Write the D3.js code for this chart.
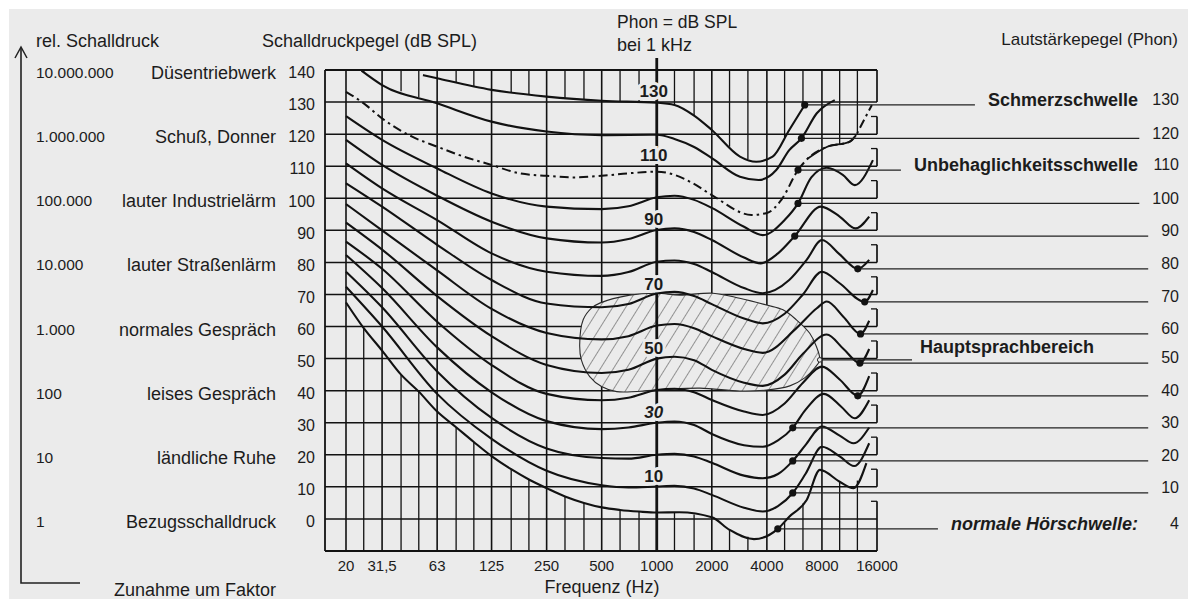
<!DOCTYPE html>
<html><head><meta charset="utf-8">
<script src="https://cdn.jsdelivr.net/npm/d3@7"></script>
<style>
html,body{margin:0;padding:0;background:#fff;}
svg{display:block;font-family:"Liberation Sans",Arial,Helvetica,sans-serif;}
</style></head><body>
<svg id="chart" width="1191" height="599"></svg>
<script>
// ---------------- DATA ----------------
const dbTicks = [0,10,20,30,40,50,60,70,80,90,100,110,120,130,140];
const dbGrid = [0,10,20,30,40,50,60,70,80,90,100,110,120,130];
const freqTicks = [20,31.5,63,125,250,500,1000,2000,4000,8000,16000];
const freqTickLabels = ["20","31,5","63","125","250","500","1000","2000","4000","8000","16000"];
const octaveLines = [20,31.5,63,125,250,500,2000,4000,8000];
const thirdLines = [25,40,50,80,100,160,200,315,400,630,800,1250,1600,2500,3150,5000,6300,10000,12500];
const borderTickLevels = [0,10,20,30,40,50,60,70,80,90,100,110,120];

const relPressure = ["10.000.000","1.000.000","100.000","10.000","1.000","100","10","1"];
const relLevels = [140,120,100,80,60,40,20,0];
const examples = ["Düsentriebwerk","Schuß, Donner","lauter Industrielärm","lauter Straßenlärm","normales Gespräch","leises Gespräch","ländliche Ruhe","Bezugsschalldruck"];

const phonAt1k = [130,110,90,70,50,30,10];

// equal-loudness contours: [frequency Hz, dB SPL]
const curve130 = [[52.7,138.4],[63,137.4],[125,133.8],[250,131.7],[500,130.4],[1000,129.8],[1250,129.1],[1600,125.8],[2000,121.3],[2850,113],[3500,111.4],[4300,113],[5300,121.3]];
const curve120 = [[24.3,139.8],[31.5,135.3],[63,129.6],[125,123.9],[250,120.8],[500,119.7],[1000,119.8],[1250,118.5],[1600,116],[2000,112.5],[2850,106.7],[3600,105.7],[4500,108.8],[5300,115],[7500,126.5],[9400,130.6]];
const curve110 = [[20,133.2],[25,129.6],[31.5,124.9],[46,119.2],[63,116.1],[88,113],[125,110.4],[177,107.8],[250,107],[350,106.5],[500,107],[710,107.8],[1000,108.3],[1250,107.3],[1570,104.7],[2000,101],[3300,94.8],[4000,95.4],[4800,99.5],[6700,112.4],[8500,116],[11300,117.6],[12300,119.7],[13000,122.3],[15000,129.1]];
const curve100 = [[20,125.6],[31.5,118.2],[63,109.3],[125,101.5],[250,97.4],[500,96.6],[700,97.5],[1000,100.3],[1250,100.8],[1600,99.5],[2000,97],[3000,91.1],[3800,88.5],[5000,93.2],[7000,106.5],[8500,109.5],[10400,107.3],[12100,104.1],[15200,111.9]];
const curve90 = [[20,118.2],[31.5,110.4],[63,100.8],[125,92.7],[250,87.5],[500,86.2],[700,87.3],[1000,90.1],[1250,90.6],[1600,89.5],[2000,87],[3000,81.5],[3700,79.7],[4600,82.8],[7900,97.4],[10000,94.3],[12200,90.6],[14500,94.3]];
const curve80 = [[20,110.9],[31.5,103.1],[63,93.2],[125,82.8],[250,77.1],[500,75.8],[700,77],[1000,80.2],[1250,80.6],[1600,79.5],[2000,77],[3000,72],[3800,70.4],[5300,74.5],[6600,80.8],[8000,87],[10000,82.5],[14500,80.8]];
const curve70 = [[20,104.7],[31.5,97.4],[63,85.5],[125,74.5],[250,67.2],[500,66],[700,67],[1000,70.3],[1250,70.8],[1600,69.5],[2000,67],[3000,62.5],[3800,61],[5000,64],[6300,70],[8000,77.1],[10000,73.5],[15200,71.4]];
const curve60 = [[20,98.2],[31.5,90],[63,77.5],[125,65.5],[250,58],[500,56],[700,57],[1000,60.3],[1250,60.8],[1600,59.5],[2000,57],[3000,53],[3800,51.8],[5800,59.5],[7500,65.7],[8500,67.8],[10500,63],[14500,61.8]];
const curve50 = [[20,92.4],[31.5,84],[63,69.5],[125,57],[250,48],[500,45.5],[700,46.5],[1000,50],[1250,50.6],[1600,49.5],[2000,46.5],[3000,42.5],[3800,41.5],[5000,45],[6300,51.5],[8500,57.5],[10500,53],[14500,53]];
const curve40 = [[20,86.5],[31.5,78],[63,61.5],[125,48],[250,39],[500,37],[700,37.8],[1000,40.2],[1250,40.6],[1600,39.5],[2000,37.1],[3000,33.5],[3800,32.4],[5000,36],[6300,42.5],[8000,47.5],[10000,43.5],[14500,44.5]];
const curve30 = [[20,82.3],[31.5,72],[63,53.5],[125,39.5],[250,30.5],[500,28],[700,28.5],[1000,30],[1250,30.4],[1600,29.3],[2000,26.5],[3000,23],[3800,22.5],[4600,24.5],[6500,34],[8200,39],[10200,35],[12100,31.4],[14500,37]];
const curve20 = [[20,77.1],[31.5,66],[63,46],[125,31.5],[250,22],[500,19],[700,18.8],[1000,20],[1250,20.3],[1600,19.5],[2000,17.5],[3000,13.5],[3800,12.7],[4600,14],[6500,23],[8000,28.8],[10000,26],[11900,23.6],[14500,28.5]];
const curve10 = [[20,72.4],[31.5,60],[63,39],[125,25],[250,15],[500,10.5],[700,9.8],[1000,10.1],[1250,10.3],[1600,9.5],[2000,7.5],[3000,3.5],[3800,2.3],[4600,4],[6500,14],[8000,22.5],[10000,19.5],[12000,16.5],[14500,23.6]];
const curve4 = [[20,67.5],[25,59.5],[31.5,52.5],[40,45],[50,39.7],[63,33.5],[80,28.6],[100,24],[125,19.6],[160,15.5],[200,12.3],[250,9.6],[315,7],[400,5],[500,3.6],[630,2.8],[800,2.3],[1000,2],[1330,2.1],[2000,0.5],[2500,-3.4],[3400,-6.3],[5300,0.7],[6600,5.9],[7800,15.3],[10000,11.6],[11900,9.6],[14000,17.4]];

const solidPhons = [130,120,100,90,80,70,60,50,40,30,20,10,4];
const solidCurves = [curve130,curve120,curve100,curve90,curve80,curve70,curve60,curve50,curve40,curve30,curve20,curve10,curve4];
const dashPhon = 110;
const dashSolidRange = [6700,12300];

// marked points where the right-hand leader lines start
const dotPhon = [130,120,110,100,90,80,70,60,50,40,30,20,10,4];
const dotFreq = [6440,6180,5920,5920,5680,12560,13700,13000,12900,12560,5540,5540,5540,4590];
const dotDb = [129.1,118.7,108.8,98.4,88.2,78,67.7,57.7,48.6,38.4,28.4,18.1,8.1,-3.1];

const namedPhon = [130,110,4];
const namedText = ["Schmerzschwelle","Unbehaglichkeitsschwelle","normale Hörschwelle:"];

// main speech region outline [Hz, dB]
const speechRegion = [[379,54.3],[396,62.1],[441,65.8],[488,67.3],[712,69.8],[1000,70.4],[1336,69.8],[2030,70.4],[2840,68.8],[3980,66.7],[4900,65.2],[5800,62.1],[6860,57.9],[7470,53.7],[7780,49.6],[7310,47.1],[6440,44],[5340,41.5],[3990,40.2],[2840,39.9],[1720,40.8],[1000,40.2],[604,39.7],[499,41.3],[430,44.4],[387,49.6]];
const speechLabel = "Hauptsprachbereich";

// ---------------- DRAW ----------------
const W = 1191, H = 599;
const BG = "#ebebeb", INK = "#121212", TXT = "#1c1c1c";
const svg = d3.select("#chart");
svg.append("rect").attr("x",9).attr("y",9).attr("width",W-12).attr("height",H-9).attr("fill",BG);

const x = d3.scaleLog().domain([20,16000]).range([346,877]);
const y = d3.scaleLinear().domain([-10,140]).range([551,70]);
const xL = 325, xR = x(16000), yT = y(140), yB = y(-10);

function withDot(pts, phon){
  const a = pts.slice();
  const i = dotPhon.indexOf(phon);
  if (i >= 0) a.push([dotFreq[i], dotDb[i]]);
  a.sort((p,q)=>p[0]-q[0]);
  return a;
}
function interp(pts, f){
  if (f < pts[0][0] || f > pts[pts.length-1][0]) return null;
  for (let k=0;k<pts.length-1;k++){
    const [f0,d0]=pts[k],[f1,d1]=pts[k+1];
    if (f>=f0 && f<=f1){
      const t=(Math.log(f)-Math.log(f0))/(Math.log(f1)-Math.log(f0));
      return d0+t*(d1-d0);
    }
  }
  return null;
}
const allSolid = solidCurves.map((c,i)=>withDot(c, solidPhons[i]));
const dashPts = withDot(curve110, dashPhon);
const thresholdPts = allSolid[solidPhons.indexOf(4)];

const grid = svg.append("g").attr("stroke",INK).attr("fill","none");
grid.selectAll(".h").data(dbGrid).join("line")
  .attr("x1",xL).attr("x2",xR).attr("y1",d=>y(d)).attr("y2",d=>y(d)).attr("stroke-width",1.5);
grid.selectAll(".o").data(octaveLines).join("line")
  .attr("x1",d=>x(d)).attr("x2",d=>x(d)).attr("y1",yT).attr("y2",yB).attr("stroke-width",1.6);
thirdLines.forEach(f=>{
  const thr = interp(thresholdPts,f);
  if (thr!==null) grid.append("line").attr("x1",x(f)).attr("x2",x(f)).attr("y1",yB).attr("y2",y(thr)).attr("stroke-width",1.3);
  let top = -Infinity;
  allSolid.concat([dashPts]).forEach(c=>{ const v=interp(c,f); if(v!==null && v>top) top=v; });
  if (top>-Infinity && top<140) grid.append("line").attr("x1",x(f)).attr("x2",x(f)).attr("y1",yT).attr("y2",y(top)).attr("stroke-width",1.3);
});
grid.append("line").attr("x1",xL).attr("x2",xL).attr("y1",yT).attr("y2",yB).attr("stroke-width",1.8);
grid.append("line").attr("x1",xL).attr("x2",xR).attr("y1",yT).attr("y2",yT).attr("stroke-width",1.8);
grid.append("line").attr("x1",xL).attr("x2",xR).attr("y1",yB).attr("y2",yB).attr("stroke-width",1.8);
grid.append("line").attr("x1",xR).attr("x2",xR).attr("y1",yT).attr("y2",y(130)).attr("stroke-width",1.7);
grid.append("line").attr("x1",xR).attr("x2",xR).attr("y1",yB).attr("y2",y(0)).attr("stroke-width",1.7);
borderTickLevels.forEach(L=>{
  grid.append("line").attr("x1",xR).attr("x2",xR).attr("y1",y(L)).attr("y2",y(L+5.5)).attr("stroke-width",1.7);
  grid.append("line").attr("x1",xR).attr("x2",xR-6).attr("y1",y(L+5.5)).attr("y2",y(L+5.5)).attr("stroke-width",1.3);
});

// speech region (covers grid)
const defs = svg.append("defs");
const pat = defs.append("pattern").attr("id","hatch").attr("patternUnits","userSpaceOnUse")
  .attr("width",11).attr("height",11).attr("patternTransform","rotate(32)");
pat.append("line").attr("x1",0).attr("y1",0).attr("x2",0).attr("y2",11).attr("stroke","#3a3a3a").attr("stroke-width",1);
const regionLine = d3.line().x(d=>x(d[0])).y(d=>y(d[1])).curve(d3.curveCatmullRomClosed.alpha(0.5));
svg.append("path").attr("d",regionLine(speechRegion)).attr("fill",BG);
svg.append("path").attr("d",regionLine(speechRegion)).attr("fill","url(#hatch)").attr("stroke","#2a2a2a").attr("stroke-width",1.1);

// 1 kHz reference line
svg.append("line").attr("x1",x(1000)).attr("x2",x(1000)).attr("y1",58).attr("y2",yB).attr("stroke",INK).attr("stroke-width",2.8);
svg.append("g").selectAll("text").data(phonAt1k).join("text")
  .attr("x",x(1000)-3).attr("y",d=>y(d)-11).attr("dy","0.36em").attr("text-anchor","middle")
  .attr("font-size",17).attr("font-weight","bold").attr("font-style",d=>d===30?"italic":null)
  .attr("fill",TXT).attr("stroke",BG).attr("stroke-width",6).attr("paint-order","stroke")
  .text(d=>d);

// contours
const line = d3.line().x(d=>x(d[0])).y(d=>y(d[1])).curve(d3.curveMonotoneX);
svg.append("g").selectAll("path").data(allSolid).join("path")
  .attr("d",d=>line(d)).attr("fill","none").attr("stroke",INK).attr("stroke-width",2.1);
svg.append("path").attr("d",line(dashPts)).attr("fill","none").attr("stroke",INK)
  .attr("stroke-width",2).attr("stroke-dasharray","9,4,2.5,4");
svg.append("path").attr("d",line.defined(d=>d[0]>=dashSolidRange[0]&&d[0]<=dashSolidRange[1])(dashPts))
  .attr("fill","none").attr("stroke",INK).attr("stroke-width",1.8);

// right-hand labels with leader lines
const rg = svg.append("g");
dotPhon.forEach((p,i)=>{
  const yy = y(dotDb[i]);
  const num = rg.append("text").attr("x",1179).attr("y",yy-5.5).attr("dy","0.36em").attr("text-anchor","end")
    .attr("font-size",16).attr("fill",TXT).text(p);
  let left = 1179 - num.node().getComputedTextLength();
  const ni = namedPhon.indexOf(p);
  if (ni>=0){
    const t = rg.append("text").attr("x",1138).attr("y",yy-5.5).attr("dy","0.36em").attr("text-anchor","end")
      .attr("font-size",18).attr("font-weight","bold").attr("font-style",p===4?"italic":null)
      .attr("fill",TXT).text(namedText[ni]);
    left = 1138 - t.node().getComputedTextLength();
  }
  rg.append("line").attr("x1",x(dotFreq[i])).attr("x2",left-13).attr("y1",yy).attr("y2",yy)
    .attr("stroke","#222").attr("stroke-width",1.3);
});
const tip = speechRegion.reduce((a,b)=>b[0]>a[0]?b:a);
rg.append("text").attr("x",920).attr("y",y(tip[1])-13).attr("dy","0.36em")
  .attr("font-size",18).attr("font-weight","bold").attr("fill",TXT).text(speechLabel);
rg.append("line").attr("x1",x(tip[0])).attr("x2",912).attr("y1",y(tip[1])).attr("y2",y(tip[1]))
  .attr("stroke","#222").attr("stroke-width",1.2);
rg.append("circle").attr("cx",x(tip[0])).attr("cy",y(tip[1])).attr("r",2.3).attr("fill",BG).attr("stroke","#222").attr("stroke-width",1);
svg.append("g").selectAll("circle").data(dotPhon).join("circle")
  .attr("cx",(d,i)=>x(dotFreq[i])).attr("cy",(d,i)=>y(dotDb[i])).attr("r",3.6).attr("fill",INK);

// y tick labels
svg.append("g").selectAll("text").data(dbTicks).join("text")
  .attr("x",315).attr("y",d=>y(d)+2.5).attr("dy","0.36em").attr("text-anchor","end")
  .attr("font-size",16).attr("fill",TXT).text(d=>d);
// x tick labels
svg.append("g").selectAll("text").data(freqTicks).join("text")
  .attr("x",d=>x(d)).attr("y",571).attr("text-anchor","middle")
  .attr("font-size",15).attr("fill",TXT).text((d,i)=>freqTickLabels[i]);
svg.append("text").attr("x",602).attr("y",593).attr("text-anchor","middle").attr("font-size",18).attr("fill",TXT).text("Frequenz (Hz)");

// left columns
svg.append("g").selectAll("text").data(relLevels).join("text")
  .attr("x",36).attr("y",d=>y(d)+2.5).attr("dy","0.36em").attr("font-size",15.5).attr("fill",TXT)
  .text((d,i)=>relPressure[i]);
svg.append("g").selectAll("text").data(relLevels).join("text")
  .attr("x",276).attr("y",d=>y(d)+2.5).attr("dy","0.36em").attr("text-anchor","end").attr("font-size",18).attr("fill",TXT)
  .text((d,i)=>examples[i]);

// titles
svg.append("text").attr("x",36).attr("y",46.5).attr("font-size",18).attr("fill",TXT).text("rel. Schalldruck");
svg.append("text").attr("x",262).attr("y",46.5).attr("font-size",18).attr("fill",TXT).text("Schalldruckpegel (dB SPL)");
svg.append("text").attr("x",1178).attr("y",44.5).attr("text-anchor","end").attr("font-size",17).attr("fill",TXT).text("Lautstärkepegel (Phon)");
svg.append("text").attr("x",617).attr("y",28).attr("font-size",17.5).attr("fill",TXT).text("Phon = dB SPL");
svg.append("text").attr("x",617).attr("y",50.5).attr("font-size",18).attr("fill",TXT).text("bei 1 kHz");
svg.append("text").attr("x",276).attr("y",596).attr("text-anchor","end").attr("font-size",18).attr("fill",TXT).text("Zunahme um Faktor");

// left arrow
svg.append("path").attr("d","M21,48 L21,583 L80,583").attr("fill","none").attr("stroke","#222").attr("stroke-width",1.6);
svg.append("path").attr("d","M15,58 L21,47 L27,58").attr("fill","none").attr("stroke","#222").attr("stroke-width",1.5);
</script>
</body></html>
